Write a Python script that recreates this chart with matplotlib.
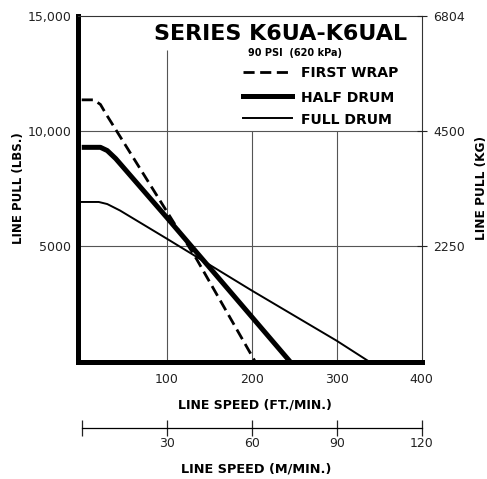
import matplotlib
matplotlib.use("Agg")
from matplotlib import pyplot as plt
from matplotlib.lines import Line2D

plt.rcParams['font.family'] = ['DejaVu Sans']

# line pull curves (ft/min vs lbs)
first_wrap_speed = [0, 14, 22, 28, 96, 135, 204]
first_wrap_pull = [11350, 11350, 11150, 10770, 6750, 4450, 0]
half_drum_speed = [0, 22, 30, 40, 100, 245]
half_drum_pull = [9290, 9290, 9150, 8800, 6250, 0]
full_drum_speed = [0, 20, 30, 45, 100, 200, 300, 338]
full_drum_pull = [6920, 6920, 6830, 6550, 5330, 3080, 900, 0]

ft_ticks = [100, 200, 300, 400]
lbs_ticks = [5000, 10000, 15000]
lbs_labels = ['5000', '10,000', '15,000']
kg_labels = ['2250', '4500', '6804']
m_ticks = [0, 30, 60, 90, 120]
m_labels = ['', '30', '60', '90', '120']

W, H = 487, 479
fig = plt.figure(figsize=(W / 100, H / 100), dpi=100)
ax = fig.add_axes([78 / W, 1 - 361.5 / H, 343.7 / W, 345.8 / H])
ax.set_xlim(-4.4, 400)
ax.set_ylim(0, 15000)

# grid (the white title box hides the upper part of the vertical lines)
ax.hlines([5000, 10000], -4.4, 400, color='#555555', lw=0.8, zorder=1)
ax.vlines(ft_ticks[:3], 0, [13500, 10000, 10000], color='#555555', lw=0.8, zorder=1)

ax.plot(first_wrap_speed, first_wrap_pull, color='black', lw=2.0,
        linestyle=(0, (4, 2)), zorder=3)
ax.plot(half_drum_speed, half_drum_pull, color='black', lw=3.6, zorder=3,
        solid_capstyle='butt')
ax.plot(full_drum_speed, full_drum_pull, color='black', lw=1.4, zorder=3)

for s in ['left', 'bottom']:
    ax.spines[s].set_linewidth(3.6)
for s in ['top', 'right']:
    ax.spines[s].set_linewidth(0.8)
    ax.spines[s].set_color('#333333')

ax.set_xticks(ft_ticks)
ax.set_yticks(lbs_ticks)
ax.set_yticklabels(lbs_labels)
ax.tick_params(axis='both', length=0, labelsize=9, colors='#222222')
ax.tick_params(axis='x', pad=8)
ax.tick_params(axis='y', pad=5)

ax_r = ax.twinx()
ax_r.set_ylim(0, 15000)
ax_r.set_yticks(lbs_ticks)
ax_r.set_yticklabels(kg_labels)
ax_r.tick_params(axis='y', direction='inout', length=7, width=0.8,
                 labelsize=9, pad=5, colors='#222222')
for s in ax_r.spines.values():
    s.set_visible(False)

# metric speed scale
ax2 = fig.add_axes([78 / W, 1 - 428 / H, 343.7 / W, 1e-4])
ax2.set_xlim(-4.4 * 0.3, 120)
ax2.patch.set_visible(False)
for s in ['left', 'right', 'top']:
    ax2.spines[s].set_visible(False)
ax2.spines['bottom'].set_bounds(0, 120)
ax2.spines['bottom'].set_linewidth(0.9)
ax2.set_yticks([])
ax2.set_xticks(m_ticks)
ax2.set_xticklabels(m_labels)
ax2.tick_params(axis='x', direction='inout', length=11, width=0.9,
                labelsize=9, pad=1, colors='#222222')

# labels
fig.text(255 / W, 1 - 408 / H, 'LINE SPEED (FT./MIN.)', ha='center', va='baseline',
         fontsize=9, fontweight='bold')
fig.text(256 / W, 1 - 473 / H, 'LINE SPEED (M/MIN.)', ha='center', va='baseline',
         fontsize=9.3, fontweight='bold')
fig.text(19 / W, 1 - 188 / H, 'LINE PULL (LBS.)', ha='center', va='center',
         rotation=90, fontsize=8.5, fontweight='bold')
fig.text(482 / W, 1 - 188 / H, 'LINE PULL (KG)', ha='center', va='center',
         rotation=90, fontsize=8.7, fontweight='bold')

# title box / legend
fig.text(281 / W, 1 - 40 / H, 'SERIES K6UA-K6UAL', ha='center', va='baseline',
         fontsize=16, fontweight='bold',
         bbox=dict(facecolor='white', edgecolor='none', pad=4))
fig.text(248 / W, 1 - 56.5 / H, '90 PSI  (620 kPa)', ha='left', va='baseline',
         fontsize=7, fontweight='bold')
legend_items = [('FIRST WRAP', 72, 77.3, dict(lw=2.0, linestyle=(0, (4, 2)))),
                ('HALF DRUM', 96, 101.7, dict(lw=3.6)),
                ('FULL DRUM', 117.5, 124, dict(lw=1.4))]
for name, ly, ty, style in legend_items:
    fig.add_artist(Line2D([243 / W, 292 / W], [1 - ly / H, 1 - ly / H],
                          transform=fig.transFigure, color='black', **style))
    fig.text(301 / W, 1 - ty / H, name, ha='left', va='baseline',
             fontsize=10.1, fontweight='bold')

fig.savefig('out.png', dpi=100)
